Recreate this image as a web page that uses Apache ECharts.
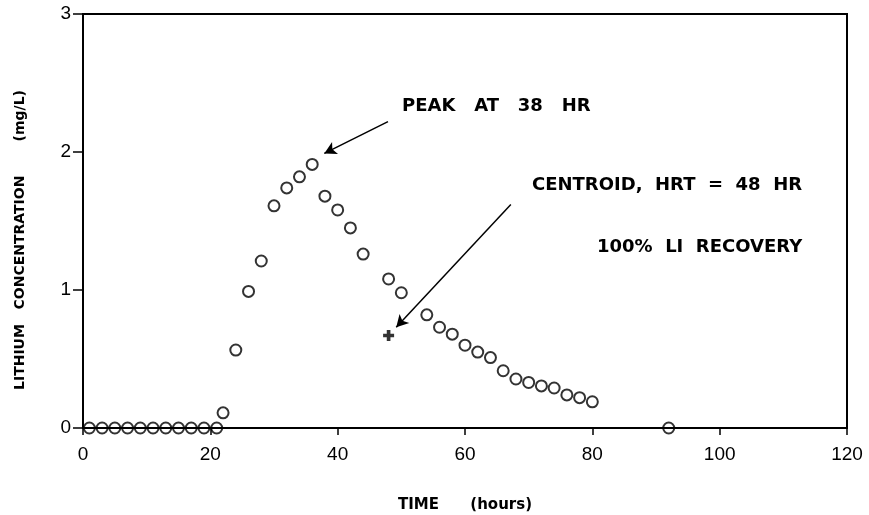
<!DOCTYPE html>
<html>
<head>
<meta charset="utf-8">
<script src="https://cdn.jsdelivr.net/npm/echarts@6/dist/echarts.min.js"></script>
<style>
  html, body { margin: 0; padding: 0; background: #fff; }
  #chart { width: 869px; height: 515px; }
</style>
</head>
<body>
<div id="chart"></div>
<script>
// hours sampled and measured lithium concentration (mg/L)
const hours = [1, 3, 5, 7, 9, 11, 13, 15, 17, 19, 21, 22, 24, 26, 28, 30, 32, 34, 36, 38, 40, 42, 44, 48, 50,
  54, 56, 58, 60, 62, 64, 66, 68, 70, 72, 74, 76, 78, 80, 92]
const conc = [0, 0, 0, 0, 0, 0, 0, 0, 0, 0, 0, 0.11, 0.565, 0.99, 1.21, 1.61, 1.74, 1.82, 1.91, 1.68, 1.58, 1.45, 1.26, 1.08, 0.98,
  0.82, 0.73, 0.68, 0.60, 0.55, 0.51, 0.415, 0.355, 0.33, 0.305, 0.29, 0.24, 0.22, 0.19, 0.0]
const centroid = [48, 0.67]

// annotation arrows: [from, to] in data units
const peakArrow = [[47.9, 2.22], [37.9, 1.99]]
const centroidArrow = [[67.2, 1.62], [49.2, 0.73]]

const xTicks = { min: 0, max: 120, interval: 20 }
const yTicks = { min: 0, max: 3, interval: 1 }

const chart = echarts.init(document.getElementById('chart'))

const boldText = (text, x, y) => ({
  type: 'text', x, y,
  style: { text, font: 'bold 18px "DejaVu Sans"', fill: '#000', textVerticalAlign: 'middle' },
})

chart.setOption({
  animation: false,
  grid: {
    left: 83, right: 22, top: 14, bottom: 87, outerBoundsMode: 'none',
    show: true, borderColor: '#000', borderWidth: 2,
  },
  xAxis: {
    type: 'value', ...xTicks,
    name: 'TIME      (hours)', nameLocation: 'middle', nameGap: 70,
    nameTextStyle: { fontFamily: 'DejaVu Sans', fontWeight: 'bold', fontSize: 15, color: '#000' },
    axisLine: { lineStyle: { color: '#000', width: 2 } },
    axisTick: { length: 7, lineStyle: { color: '#000', width: 1.5 } },
    axisLabel: { fontFamily: 'Liberation Sans', fontSize: 19, color: '#000', margin: 17 },
    splitLine: { show: false },
  },
  yAxis: {
    type: 'value', ...yTicks,
    axisLine: { lineStyle: { color: '#000', width: 2 } },
    axisTick: { length: 10, lineStyle: { color: '#000', width: 1.5 } },
    axisLabel: { fontFamily: 'Liberation Sans', fontSize: 19, color: '#000', margin: 12 },
    splitLine: { show: false },
  },
  graphic: [
    {
      type: 'text', x: 20, y: 240, rotation: Math.PI / 2,
      style: {
        text: 'LITHIUM   CONCENTRATION       (mg/L)', font: 'bold 14px "DejaVu Sans"', fill: '#000',
        textAlign: 'center', textVerticalAlign: 'middle',
      },
    },
    boldText('PEAK   AT   38   HR', 402, 106),
    boldText('CENTROID,  HRT  =  48  HR', 532, 185),
    boldText('100%  LI  RECOVERY', 597, 247),
  ],
  series: [
    {
      type: 'scatter',
      data: hours.map((h, i) => [h, conc[i]]),
      symbol: 'circle', symbolSize: 11,
      itemStyle: { color: 'rgba(0,0,0,0)', borderColor: '#000', borderWidth: 2 },
      markLine: {
        silent: true, symbol: ['none', 'arrow'], symbolSize: [10, 12],
        lineStyle: { color: '#000', width: 1.5, type: 'solid' },
        label: { show: false },
        data: [
          [{ coord: peakArrow[0] }, { coord: peakArrow[1] }],
          [{ coord: centroidArrow[0] }, { coord: centroidArrow[1] }],
        ],
      },
    },
    {
      type: 'scatter',
      data: [centroid],
      symbol: 'path://M4,0 L8,0 L8,4 L12,4 L12,8 L8,8 L8,12 L4,12 L4,8 L0,8 L0,4 L4,4 Z',
      symbolSize: 11,
      itemStyle: { color: '#000' },
    },
  ],
})
</script>
</body>
</html>
